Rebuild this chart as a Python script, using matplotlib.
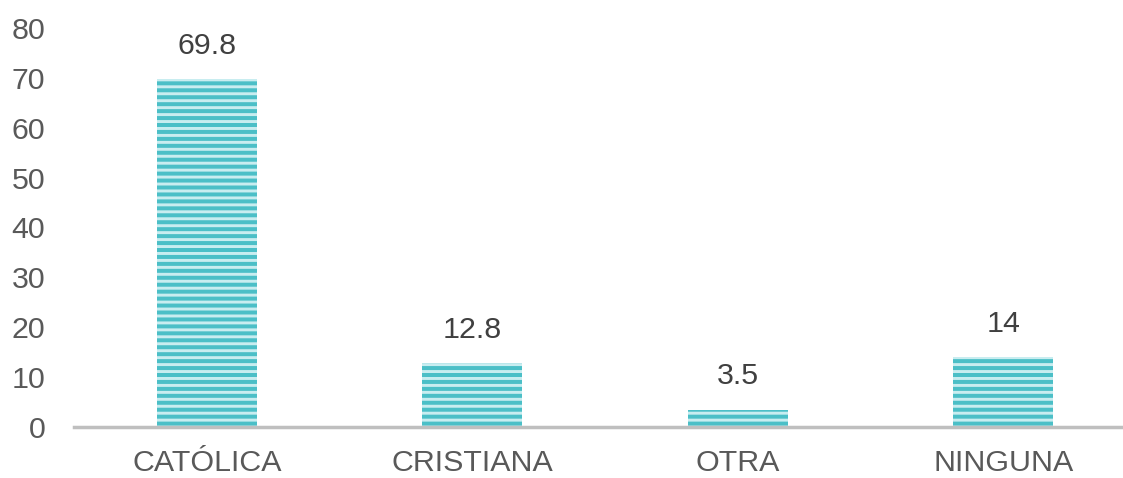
import numpy as np
import matplotlib.pyplot as plt

categories = ["CATÓLICA", "CRISTIANA", "OTRA", "NINGUNA"]
values = [69.8, 12.8, 3.5, 14]
value_labels = ["69.8", "12.8", "3.5", "14"]
yticks = [0, 10, 20, 30, 40, 50, 60, 70, 80]

plt.rcParams['font.family'] = ['Liberation Sans', 'DejaVu Sans']
plt.rcParams['hatch.color'] = '#c8edf0'
plt.rcParams['hatch.linewidth'] = 1.7

fig = plt.figure(figsize=(1123 / 125, 478 / 125), dpi=125)
ax = fig.add_axes([74 / 1123, 51 / 478, (1136 - 74) / 1123, (427 - 28) / 478])

x = np.arange(len(categories))
bars = ax.bar(x, values, width=0.377, color='#4bbfc7', edgecolor='#c8edf0',
              linewidth=0, hatch='---', zorder=2)

for xi, v, lab in zip(x, values, value_labels):
    ax.annotate(lab, (xi, v), xytext=(0, 11), textcoords='offset points',
                ha='center', va='bottom', fontsize=17.5, color='#404040')

ax.set_xlim(-0.5, 3.5)
ax.set_ylim(0, 80)
ax.set_yticks(yticks)
ax.set_xticks(x)
ax.set_xticklabels(categories)
ax.tick_params(axis='y', length=0, pad=16.5, labelsize=17.5, labelcolor='#595959')
ax.tick_params(axis='x', length=0, pad=12.5, labelsize=17.5, labelcolor='#595959')

for s in ['top', 'right', 'left']:
    ax.spines[s].set_visible(False)
ax.spines['bottom'].set_color('#bfbfbf')
ax.spines['bottom'].set_linewidth(2.0)
ax.spines['bottom'].set_zorder(3)

fig.savefig('out.png', dpi=125)
